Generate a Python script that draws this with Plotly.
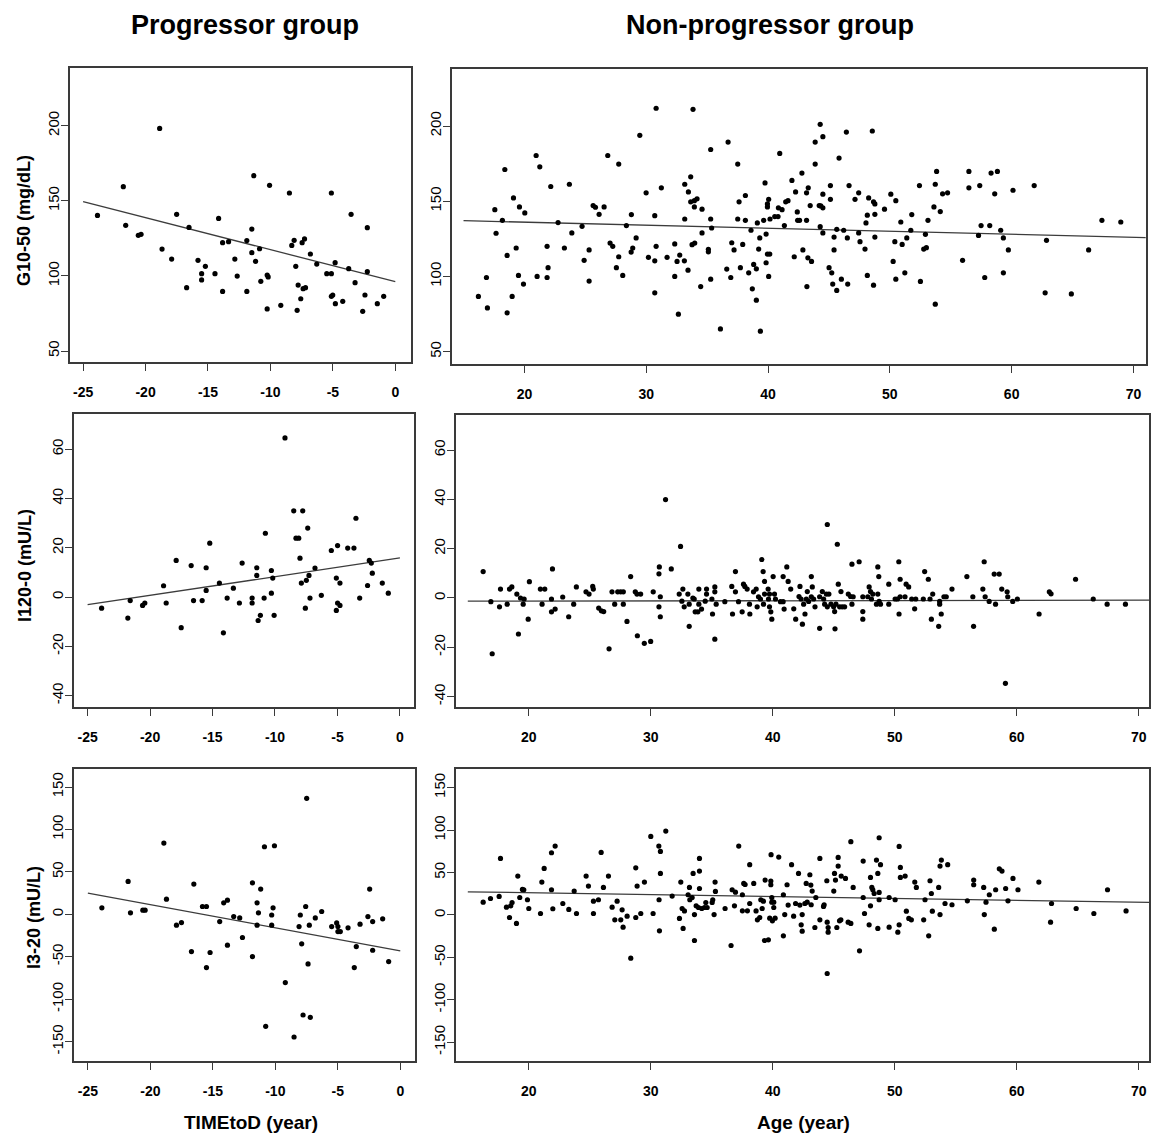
import plotly.graph_objects as go

# ---------------- DATA ----------------
# Progressor group: G10-50 (mg/dL) vs TIMEtoD (year)
tl_x = [-23.85,-21.78,-21.59,-20.58,-20.36,-18.87,-18.68,-17.91,-17.51,-16.71,-16.52,-15.80,-15.51,-15.51,-15.21,
        -14.44,-14.15,-13.83,-13.83,-13.35,-12.85,-12.66,-11.89,-11.89,-11.49,-11.49,-11.33,-11.19,-10.87,-10.77,
        -10.26,-10.18,-10.26,-10.07,-9.17,-8.48,-8.29,-8.10,-7.97,-7.86,-7.78,-7.57,-7.46,-7.27,-7.38,
        -7.19,-6.80,-6.29,-5.49,-5.12,-5.12,-5.01,-5.12,-4.82,-4.80,-4.21,-3.73,-3.54,-3.22,-2.61,
        -2.43,-2.24,-2.24,-1.44,-0.93]
tl_y = [140.3,159.4,133.7,127,127.7,198.2,117.9,111.2,141,92.2,132.3,110.4,101.5,97.3,106.4,
        101.5,138.3,122.1,89.7,122.8,111.2,99.9,123.5,89.7,131.2,115.5,166.7,109.7,118.1,96.4,
        100.6,99.3,78,160.3,80.4,155.2,120.3,123.7,106.4,77.1,93.9,84.8,122.1,124.6,91.5,
        92.2,114.6,107.9,101.5,101.5,155.2,87.3,86.4,108.8,81.5,83.1,104.8,141,95.5,76.4,
        87.3,132.1,102.8,81.5,86.4]

# Non-progressor group: G10-50 (mg/dL) vs Age (year)
tr_x = [16.22,16.88,16.96,17.57,17.67,18.19,18.39,18.58,18.58,18.99,
        19.10,19.32,19.51,19.59,19.92,20.03,20.96,21.04,21.26,21.86,
        21.94,21.86,22.16,22.76,23.28,23.69,23.89,24.73,24.90,25.31,
        25.31,25.64,25.83,26.13,26.54,26.84,27.03,27.25,27.55,27.74,
        27.74,28.07,28.37,28.76,28.78,28.89,29.17,29.47,29.99,30.18,
        30.70,30.70,30.70,30.81,30.81,31.24,31.71,32.34,32.34,32.53,
        32.64,32.75,33.13,33.16,33.16,33.43,33.46,33.65,33.65,33.76,
        33.84,33.95,33.95,33.98,34.17,34.47,34.58,34.58,35.10,35.10,
        35.29,35.29,35.29,35.37,36.09,36.61,36.72,36.94,37.02,37.21,
        37.51,37.51,37.62,37.73,37.92,38.14,38.14,38.41,38.60,38.71,
        38.82,39.04,39.04,39.12,39.23,39.37,39.32,39.64,39.75,39.84,
        39.84,39.95,39.95,39.95,40.05,40.14,40.05,40.16,40.55,40.82,
        40.85,40.96,41.15,41.34,41.45,41.64,
        41.96,42.15,42.26,42.40,42.43,42.59,42.78,42.86,43.16,43.16,
        43.19,43.27,43.30,43.46,43.57,43.87,43.87,44.28,44.28,44.20,
        44.33,44.50,44.50,44.50,44.50,45.01,45.12,45.12,45.23,45.31,
        45.42,45.42,45.64,45.64,45.83,46.02,46.21,46.43,46.51,46.54,
        46.65,47.14,47.44,47.44,47.55,47.96,48.04,48.15,48.15,48.26,
        48.56,48.66,48.77,48.77,48.77,48.66,49.56,50.08,50.27,50.41,
        50.49,50.49,50.90,51.01,51.23,51.39,51.72,51.80,52.43,52.51,
        52.78,53.00,52.92,53.13,53.62,53.73,53.84,53.73,54.14,54.33,
        54.74,55.97,56.49,56.49,57.28,57.38,57.49,57.79,58.20,58.31,
        58.61,58.83,59.10,59.32,59.32,59.73,60.11,61.85,62.75,62.86,
        64.90,66.32,67.41,68.96]
tr_y = [86.7,99.3,79.1,144.4,128.7,137.3,171.1,114,75.8,86.7,
        152.2,118.9,100.7,146.2,94.9,142.2,180.4,100,172.9,120,
        105.8,99.3,159.8,135.8,118.9,161.3,128.9,133.3,110.7,117.6,
        96.9,147.1,146,141.3,146.2,180.4,122.2,120,105.8,113.1,
        174.7,100.7,133.8,116.2,141.1,118.9,125.6,193.8,155.6,112.7,
        140.4,110.4,89.1,120,211.8,158.9,112.7,121.6,100,110,
        74.9,114.2,110.4,138.2,161.3,104.2,156.2,166.2,149.6,121.1,
        211.1,150.4,146.2,122.2,151.6,93.3,144.7,128.9,118,116.4,
        184.4,138.2,98.2,132.2,65.1,104.9,189.3,99.3,122.4,117.6,
        174.7,138.2,149.6,105.8,121.3,153.8,137.3,102.4,130.7,91.8,
        108,105.1,84.2,135.6,118.2,63.6,125.6,137.3,162.2,128.2,
        109.1,148.2,146.2,114.9,151.3,114.9,100,138.2,139.8,139.8,
        145.6,181.8,144.4,133.8,149.6,150.4,
        163.8,113.1,156.2,142.9,137.3,137.3,168.7,117.6,155.6,137.3,
        93.3,112.4,158.9,147.1,110,189.3,174.7,201.1,133.1,147.1,
        146.9,192.9,154.7,145.6,128.9,105.8,160.4,151.3,102.4,94.9,
        126.2,117.6,131.3,90.7,178.7,98.2,130.7,196,125.6,94.9,
        160.4,151.3,155.6,128.9,123.1,118.2,135.6,140.7,100.7,152.2,
        196.7,149.6,148.2,141.3,126.2,94.2,144.7,154.7,110,123.1,
        150.4,98.2,136.2,121.3,102.4,125.6,130.7,141.1,160.4,96.7,
        118.2,119.1,128,137.3,146.2,161.3,169.8,81.6,143.1,154.9,
        155.6,110.7,169.8,158.9,127.3,160.4,133.8,99.3,133.8,168.7,
        154.9,169.8,130.7,125.6,102.4,117.6,157.3,160.4,89.1,124,
        88.4,117.6,137.3,136.2]

# Progressor group: I120-0 (mU/L)
ml_x = [-23.88,-21.78,-21.59,-20.60,-20.42,-18.92,-18.71,-17.91,-17.51,-16.71,
        -16.52,-15.83,-15.51,-15.51,-15.22,-14.45,-14.13,-13.83,-13.33,-12.85,
        -12.63,-11.83,-11.83,-11.46,-11.46,-11.35,-11.17,-10.87,-10.77,-10.29,
        -10.29,-10.18,-10.07,-9.20,-8.50,-8.32,-8.10,-8.00,-7.89,-7.78,
        -7.57,-7.49,-7.38,-7.28,-7.20,-6.80,-6.29,-5.49,-5.09,-5.09,
        -4.99,-4.99,-4.80,-4.80,-4.18,-3.68,-3.52,-3.22,-2.59,-2.45,
        -2.29,-2.21,-1.41,-0.93]
ml_y = [-4.5,-8.5,-1.4,-3.4,-2.4,4.6,-2.4,14.9,-12.4,12.8,
        -1.4,-1.4,11.9,2.7,21.9,5.7,-14.5,-0.4,3.6,-2.4,
        13.8,-0.4,-2.4,11.9,8.8,-9.5,-7.4,-0.4,25.9,1.6,
        10.8,7.7,-7.4,64.6,35,23.9,23.9,15.8,5.7,35,
        -4.5,6.8,28,8.8,-0.4,11.8,0.7,18.9,-5.4,7.7,
        20.9,-2.4,5.7,-3.4,19.9,19.9,32,-0.4,4.7,14.9,
        13.8,9.7,5.7,1.6]

# Non-progressor group: I120-0 (mU/L)
mr_x = [16.26,16.89,17.00,17.60,17.68,18.23,18.42,18.61,19.02,19.15,
        19.32,19.54,19.62,19.95,20.05,20.95,21.09,21.31,21.86,21.94,
        21.86,22.16,22.78,23.27,23.68,23.90,24.69,24.94,25.24,25.29,
        25.73,25.95,26.14,26.58,26.82,27.04,27.29,27.53,27.75,27.75,
        28.05,28.35,28.73,28.87,28.90,29.17,29.47,29.99,30.20,30.67,
        30.67,30.70,30.78,30.78,31.21,31.68,32.44,32.33,32.63,32.55,
        32.74,33.04,33.15,33.15,33.45,33.56,33.64,33.86,33.94,33.94,
        34.16,34.46,34.57,34.57,35.01,35.06,35.25,35.25,35.25,35.36,
        36.07,36.64,36.70,36.94,36.94,37.19,37.49,37.60,37.71,37.90,
        38.09,38.12,38.42,38.64,38.72,38.83,38.99,39.10,39.21,39.24,
        39.32,39.32,39.62,39.65,39.73,39.73,39.84,39.92,40.03,40.14,
        40.22,40.63,40.85,40.85,40.93,41.15,41.26,
        41.47,41.72,41.88,42.15,42.23,42.32,42.43,42.53,42.64,42.75,
        42.83,42.94,43.16,43.16,43.24,43.35,43.46,43.84,43.84,44.06,
        44.17,44.25,44.39,44.47,44.47,44.60,44.77,44.99,45.07,45.10,
        45.18,45.29,45.37,45.48,45.59,45.69,45.89,46.19,46.38,46.49,
        46.49,46.59,47.08,47.38,47.38,47.38,47.79,47.90,48.01,48.09,
        48.20,48.50,48.61,48.61,48.69,48.72,48.83,49.51,49.51,50.03,
        50.22,50.33,50.44,50.44,50.35,50.84,50.93,51.14,51.39,51.63,
        51.72,52.34,52.45,52.75,52.89,53.00,53.11,53.68,53.68,53.60,
        53.81,54.03,54.22,54.69,55.91,56.40,56.46,57.22,57.33,57.41,
        57.74,58.15,58.26,58.56,58.77,59.07,59.21,59.26,59.67,60.05,
        61.83,62.67,62.81,64.82,66.27,67.41,68.91]
mr_y = [10.7,-1.5,-22.6,-3.6,3.6,-2.5,3.6,4.5,1.6,-14.6,
        0,-2.5,-0.4,-8.6,6.6,3.6,-2.5,3.6,-0.4,11.8,
        -5.6,-4.5,0.4,-7.6,-2.5,4.5,2.5,1.6,4.7,3.6,
        -4.1,-5.2,-5.5,-20.6,2.5,-2.5,2.5,2.5,2.5,-2.5,
        -9.5,8.7,2.5,1.6,-15.3,1.6,-18.4,-17.6,2.5,-3.6,
        9.8,12.6,0.5,-7.6,39.9,11.8,20.9,1.6,3.6,-1.3,
        -3.6,1.6,-2.5,-11.5,0,-0.4,-5.6,-5.6,3.6,-2.5,
        -4.5,-1.3,3.6,1.6,-0.4,-6.5,4.5,2.5,-16.7,-2.5,
        -1.5,4.7,-6.5,2.5,10.7,-1.5,-5.6,5.6,4.7,3.6,
        -2.5,-6.5,2.5,3.6,-3.6,0.5,-0.4,15.6,10.7,-2.5,
        6.7,1.6,3.6,-0.4,1.6,-3.6,-5.6,-8.6,8.7,1.6,
        -0.4,-1.5,-1.5,8.7,-4.5,12.6,6.7,
        3.6,-4.4,-8.6,0.6,4.7,-0.4,-10.6,-2.5,-6.5,-0.4,
        2.6,-1.4,8.7,0.5,4.5,-0.4,-3.6,0.5,-12.3,2.6,
        -0.4,-2.5,1.6,29.8,-3.6,1.6,-2.5,-3.6,-5.5,-12.5,
        -2.5,21.8,5.6,-3.6,2.6,-3.6,-3.6,1.6,0.6,13.7,
        -2.5,0.5,14.7,0.5,-5.5,-8.6,0.5,4.5,2.6,-0.4,
        1.6,-2.5,12.6,1.6,8.7,-1.4,-2.5,5.6,-2.5,-0.4,
        -0.4,14.7,7.6,0.5,-6.5,0.5,5.6,4.5,-0.4,-4.4,
        -0.4,-0.4,10.7,7.6,-0.4,-8.6,1.6,-1.4,-2.5,-11.5,
        -6.5,0.5,0.5,3.6,8.7,0.5,-11.5,3.6,14.7,0.5,
        -1.4,9.7,-2.5,9.7,3.6,-34.6,2.5,0.5,-1.4,-0.4,
        -6.5,2.5,1.7,7.6,-0.4,-2.5,-2.5]

# Progressor group: I3-20 (mU/L)
bl_x = [-23.88,-21.78,-21.59,-20.60,-20.42,-18.92,-18.71,-17.91,-17.51,-16.71,
        -16.52,-15.83,-15.51,-15.51,-15.22,-14.45,-14.13,-13.83,-13.83,-13.33,
        -12.85,-12.63,-11.83,-11.83,-11.46,-11.46,-11.35,-11.17,-10.87,-10.77,
        -10.29,-10.29,-10.18,-10.07,-9.20,-8.50,-8.10,-8.00,-7.89,-7.78,
        -7.57,-7.49,-7.38,-7.28,-7.20,-6.80,-6.29,-5.49,-5.09,-4.99,
        -4.99,-4.80,-4.18,-3.68,-3.52,-3.22,-2.59,-2.45,-2.21,-2.21,
        -1.41,-0.93]
bl_y = [7.6,38.7,1.8,4.9,4.9,83.9,17.9,-12.8,-9.7,-43.9,
        35.6,9.2,9.2,-62.7,-45,-8.5,13.6,16.7,-36.4,-2.6,
        -4.2,-27.3,37.1,-49.8,13.6,-12.8,1.8,29.7,79.6,-132,
        -0.8,-12.8,7.6,80.8,-80.4,-144.5,-14.4,-0.8,-34.8,-118.6,
        9.2,136.6,-58.4,-12.8,-121.3,-4.2,3.3,-14.4,-10.1,-14.4,
        -20.3,-20.3,-15.9,-62.7,-38,-11.6,-2.6,29.7,-8.5,-42.3,
        -5.3,-55.7]

# Non-progressor group: I3-20 (mU/L)
br_x = [16.26,16.86,17.57,17.68,18.17,18.42,18.52,18.63,18.99,19.10,
        19.26,19.48,19.59,19.89,20.00,20.96,21.07,21.26,21.86,21.86,
        21.97,22.16,22.79,23.28,23.72,23.91,24.70,24.89,25.30,25.30,
        25.71,25.93,26.12,26.53,26.83,27.05,27.24,27.54,27.65,27.73,
        28.06,28.36,28.77,28.77,28.88,29.18,29.48,30.00,30.19,30.66,
        30.68,30.71,30.79,30.79,31.23,31.75,32.35,32.46,32.57,32.65,
        32.76,33.06,33.17,33.20,33.39,33.47,33.58,33.58,33.72,33.91,
        33.99,33.99,33.99,34.18,34.40,34.51,34.62,35.03,35.08,35.19,
        35.27,35.30,36.09,36.58,36.67,36.86,36.94,37.21,37.51,37.51,
        37.62,37.73,37.92,38.11,38.11,38.44,38.63,38.74,38.93,39.02,
        39.13,39.23,39.32,39.37,39.64,39.75,39.84,39.84,39.86,39.92,
        39.92,39.97,40.08,40.08,40.19,40.49,40.87,40.87,40.98,41.17,
        41.26,
        41.54,41.71,41.87,42.11,42.22,42.33,42.41,42.41,42.63,42.74,
        42.82,43.04,43.12,43.15,43.23,43.45,43.53,43.86,43.86,44.16,
        44.21,44.43,44.46,44.54,44.54,44.46,45.00,45.06,45.14,45.25,
        45.36,45.36,45.47,45.58,45.61,45.96,46.18,46.40,46.40,46.59,
        47.11,47.41,47.41,47.52,47.90,48.01,48.01,48.12,48.20,48.31,
        48.50,48.61,48.61,48.72,48.72,48.83,48.72,49.54,49.54,50.03,
        50.25,50.36,50.36,50.46,50.46,50.85,50.95,51.15,51.36,51.64,
        51.77,52.37,52.48,52.78,52.89,53.00,53.08,53.60,53.71,53.71,
        53.82,54.12,54.34,54.69,55.95,56.47,56.47,57.29,57.34,57.48,
        57.75,58.16,58.27,58.57,58.79,59.09,59.28,59.69,60.10,61.81,
        62.77,62.85,64.87,66.32,67.44,68.96]
br_y = [15.1,19.4,21.8,66.6,9.2,-3,10.8,14.7,-10,45.8,
        20.6,30.1,29.7,17.9,7.6,1.7,38.7,54.8,73.3,29.7,
        7.3,81.2,13.5,6.5,28.1,1.7,45.8,34,1.7,16.3,
        17.9,73.7,32.4,45.8,9.2,-5.7,16.3,-5.7,6.1,-14.4,
        -1.4,-50.9,55.6,-3,34,1.7,38.7,92.6,1.7,81.2,
        17.9,-18.7,74.9,48.9,98.9,22.2,-4.1,38.7,7.6,-15.9,
        4.7,23.8,32.4,17.9,20.6,48.9,-30.1,0.5,10.8,8.8,
        31.2,51.7,66.6,7.6,8.8,14.7,8.8,14.7,17.9,0.5,
        38.7,27.7,7.6,-36,29.7,10.8,26.9,81.2,23.8,4.9,
        37.1,35.9,4.9,59.2,13.5,37.1,4.7,-5.7,-3,17.9,
        7.6,16.3,-30.1,41.1,-29.3,-3.8,39.9,35.6,71,20.6,
        15.1,-6.9,15.1,8.8,-3.8,68.2,23.8,-24.6,0.5,35.6,
        11.6,
        59.2,-1.4,13.5,48.9,11.6,-11.6,0.5,-19.1,13.5,37.1,
        15.1,47.4,35.2,12,28.1,-14.8,20.6,66.6,-5.7,10,
        12,40.3,-8.5,-14.8,-20.3,-69,28.1,48.9,41.1,-14.8,
        67.8,57.6,-6.9,-5.7,45.8,43,-8.5,86.3,-10,32.4,
        -42.3,63.5,20.6,1.7,-11.6,44.2,10.8,32.4,29.7,25.3,
        64.7,48.9,-15.9,91,17.9,59.2,26.5,20.6,-14.4,17.9,
        -20.3,80.8,-11.6,56,44.2,45.8,4.5,-4.1,-5.7,38.7,
        32.4,-5.7,17.9,-24.6,40.3,25.3,4.5,32.4,57.6,0.5,
        64.7,13.5,59.2,12,16.7,41.1,35.6,32.4,0.5,15.1,
        23.8,-16.7,29.7,54.4,51.7,31.2,16.7,43,29.7,38.7,
        -8.5,13.5,7.6,1.7,29.7,4.7]

# Fitted regression lines (end points)
tl_fit_x = [-25, 0];      tl_fit_y = [149.4, 96.2]
tr_fit_x = [15, 71];      tr_fit_y = [137.1, 125.8]
ml_fit_x = [-25, 0];      ml_fit_y = [-3.1, 15.9]
mr_fit_x = [15, 71.3];    mr_fit_y = [-1.3, -0.9]
bl_fit_x = [-25, 0];      bl_fit_y = [25.0, -43.1]
br_fit_x = [15, 71.3];    br_fit_y = [27.3, 14.7]

col_titles = ["Progressor group", "Non-progressor group"]
row_titles = ["G10-50 (mg/dL)", "I120-0 (mU/L)", "I3-20 (mU/L)"]
x_titles = ["TIMEtoD (year)", "Age (year)"]
ticks_time = [-25, -20, -15, -10, -5, 0]
ticks_age = [20, 30, 40, 50, 60, 70]
ticks_g = [50, 100, 150, 200]
ticks_i120 = [-40, -20, 0, 20, 40, 60]
ticks_i3 = [-150, -100, -50, 0, 50, 100, 150]

# ---------------- LAYOUT ----------------
W, H = 1151, 1136
FONT = "Liberation Sans, Arial, Helvetica, sans-serif"
LINE = "#3a3a3a"

def fx(p):
    return p / W

def fy(p):
    return 1 - p / H

panels = [
    dict(x=tl_x, y=tl_y, fx_=tl_fit_x, fy_=tl_fit_y, xd=(70, 412), yd=(68, 362),
         xr=[-26.06, 1.28], yr=[42.7, 238.4], xt=ticks_time, yt=ticks_g),
    dict(x=tr_x, y=tr_y, fx_=tr_fit_x, fy_=tr_fit_y, xd=(453, 1148), yd=(69, 364),
         xr=[14.07, 71.03], yr=[41.8, 237.9], xt=ticks_age, yt=ticks_g),
    dict(x=ml_x, y=ml_y, fx_=ml_fit_x, fy_=ml_fit_y, xd=(74, 415), yd=(414, 707),
         xr=[-26.1, 1.15], yr=[-44.6, 74.3], xt=ticks_time, yt=ticks_i120),
    dict(x=mr_x, y=mr_y, fx_=mr_fit_x, fy_=mr_fit_y, xd=(457, 1151), yd=(415, 707),
         xr=[14.05, 70.84], yr=[-44.2, 74.2], xt=ticks_age, yt=ticks_i120),
    dict(x=bl_x, y=bl_y, fx_=bl_fit_x, fy_=bl_fit_y, xd=(74, 416), yd=(769, 1061),
         xr=[-26.12, 1.2], yr=[-172.8, 171.2], xt=ticks_time, yt=ticks_i3),
    dict(x=br_x, y=br_y, fx_=br_fit_x, fy_=br_fit_y, xd=(457, 1151), yd=(769, 1061),
         xr=[14.05, 70.84], yr=[-172.1, 172.0], xt=ticks_age, yt=ticks_i3),
]

fig = go.Figure()
layout = dict(
    width=W, height=H, margin=dict(l=0, r=0, t=0, b=0),
    paper_bgcolor="white", plot_bgcolor="white", showlegend=False,
    font=dict(family=FONT, color="black"),
)

for i, p in enumerate(panels):
    n = "" if i == 0 else str(i + 1)
    xa, ya = "x" + n, "y" + n
    fig.add_trace(go.Scatter(x=p["fx_"], y=p["fy_"], mode="lines", xaxis=xa, yaxis=ya,
                             line=dict(color="#3c3c3c", width=1.3), hoverinfo="skip"))
    fig.add_trace(go.Scatter(x=p["x"], y=p["y"], mode="markers", xaxis=xa, yaxis=ya,
                             marker=dict(color="black", size=5.2, line=dict(width=0))))
    common = dict(showline=True, mirror=True, linecolor=LINE, linewidth=1.6,
                  ticks="outside", ticklen=7, tickwidth=1.2, tickcolor=LINE,
                  showgrid=False, zeroline=False)
    layout["xaxis" + n] = dict(domain=[fx(p["xd"][0]), min(1.0, fx(p["xd"][1]))],
                               range=p["xr"], tickvals=p["xt"],
                               ticktext=[str(v) for v in p["xt"]], anchor=ya,
                               ticklabelstandoff=9,
                               tickfont=dict(family=FONT, size=14, color="black", weight="bold"),
                               **common)
    layout["yaxis" + n] = dict(domain=[fy(p["yd"][1]), fy(p["yd"][0])],
                               range=p["yr"], tickvals=p["yt"],
                               ticktext=[str(v) for v in p["yt"]], anchor=xa,
                               tickangle=-90, ticklabelstandoff=-4,
                               tickfont=dict(family=FONT, size=15, color="black"),
                               **common)

annotations = []
# column titles
for txt, cx in zip(col_titles, [245, 771]):
    annotations.append(dict(text=txt, x=fx(cx), y=fy(25), xref="paper", yref="paper",
                            showarrow=False, xanchor="center", yanchor="middle",
                            font=dict(family=FONT, size=27, color="black", weight="bold")))
# x titles
for txt, cx in zip(x_titles, [251, 805]):
    annotations.append(dict(text=txt, x=fx(cx), y=fy(1122), xref="paper", yref="paper",
                            showarrow=False, xanchor="center", yanchor="middle",
                            font=dict(family=FONT, size=19, color="black", weight="bold")))
# y titles
for txt, cx, cy in zip(row_titles, [24, 25, 34], [220, 565, 917]):
    annotations.append(dict(text=txt, x=fx(cx), y=fy(cy), xref="paper", yref="paper",
                            showarrow=False, xanchor="center", yanchor="middle", textangle=-90,
                            font=dict(family=FONT, size=18, color="black", weight="bold")))
layout["annotations"] = annotations

fig.update_layout(**layout)
fig.write_html("out.html")
